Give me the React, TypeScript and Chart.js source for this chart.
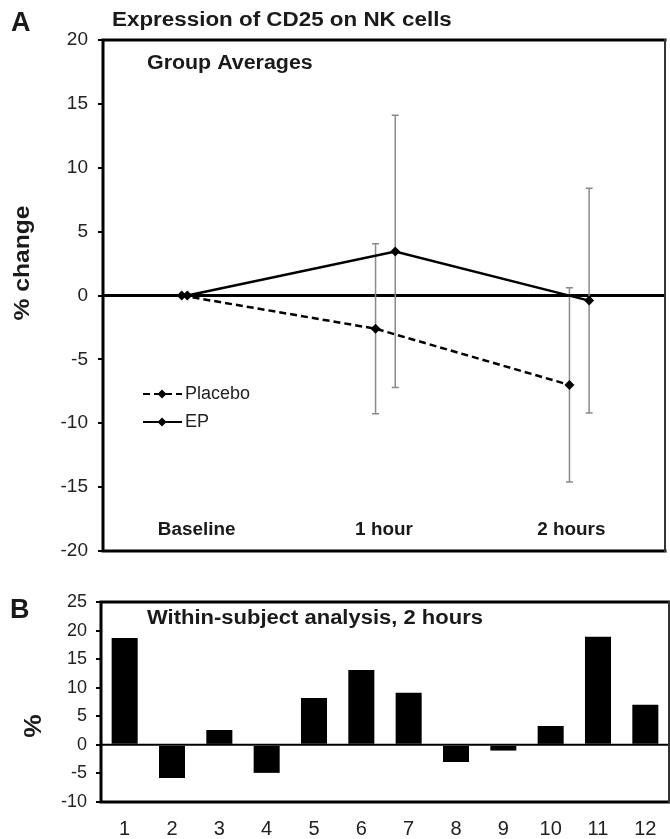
import React, { useEffect, useRef } from "react";
import { Chart, registerables } from "chart.js";

Chart.register(...registerables);

// ---------- Data: panel A (group averages) ----------
const timeLabels = ["Baseline", "1 hour", "2 hours"];
const placeboX = [-0.08, 0.955, 1.99];
const epX = [-0.05, 1.06, 2.095];
const placeboMean = [0, -2.6, -7.0];
const placeboErr = [0, 6.65, 7.6];
const epMean = [0, 3.45, -0.4];
const epErr = [0, 10.65, 8.8];
const yMinA = -20;
const yMaxA = 20;
const yStepA = 5;

// ---------- Data: panel B (within-subject, 2 hours) ----------
const subjects = ["1", "2", "3", "4", "5", "6", "7", "8", "9", "10", "11", "12"];
const withinChange = [18.7, -5.8, 2.6, -4.9, 8.2, 13.1, 9.1, -3.0, -1.0, 3.3, 18.9, 7.0];
const yMinB = -10;
const yMaxB = 25;
const yStepB = 5;

const FONT = "'Liberation Sans', Arial, Helvetica, sans-serif";
const TXT = "#1a1a1a";

function drawText(
  ctx: CanvasRenderingContext2D,
  text: string,
  x: number,
  y: number,
  font: string,
  opts: { sx?: number; align?: CanvasTextAlign; rotate?: number; color?: string } = {}
) {
  ctx.save();
  ctx.translate(x, y);
  if (opts.rotate) ctx.rotate(opts.rotate);
  ctx.scale(opts.sx ?? 1, 1);
  ctx.font = font;
  ctx.fillStyle = opts.color ?? TXT;
  ctx.textAlign = opts.align ?? "left";
  ctx.textBaseline = "middle";
  ctx.fillText(text, 0, 0);
  ctx.restore();
}

function drawBox(ctx: CanvasRenderingContext2D, a: { left: number; right: number; top: number; bottom: number }) {
  ctx.save();
  ctx.strokeStyle = "#000";
  ctx.lineCap = "square";
  ctx.lineWidth = 3;
  ctx.beginPath();
  ctx.moveTo(a.left, a.top);
  ctx.lineTo(a.right, a.top);
  ctx.moveTo(a.left, a.top);
  ctx.lineTo(a.left, a.bottom);
  ctx.lineTo(a.right, a.bottom);
  ctx.stroke();
  ctx.lineWidth = 2;
  ctx.strokeStyle = "#333";
  ctx.beginPath();
  ctx.moveTo(a.right, a.top);
  ctx.lineTo(a.right, a.bottom);
  ctx.stroke();
  ctx.restore();
}

const panelAPlugin = {
  id: "panelA",
  beforeDatasetsDraw(chart: any) {
    const { ctx, chartArea: a, scales } = chart;
    const y = scales.y;
    const x = scales.x;
    ctx.save();
    // zero line
    const y0 = y.getPixelForValue(0);
    ctx.strokeStyle = "#000";
    ctx.lineWidth = 3;
    ctx.beginPath();
    ctx.moveTo(a.left, y0);
    ctx.lineTo(a.right, y0);
    ctx.stroke();
    // error bars
    const series = [
      { xs: placeboX, m: placeboMean, e: placeboErr },
      { xs: epX, m: epMean, e: epErr },
    ];
    ctx.strokeStyle = "#8a8a8a";
    ctx.lineWidth = 1.5;
    for (const s of series) {
      for (let i = 0; i < s.m.length; i++) {
        if (!s.e[i]) continue;
        const px = x.getPixelForValue(s.xs[i]);
        const top = y.getPixelForValue(s.m[i] + s.e[i]);
        const bot = y.getPixelForValue(s.m[i] - s.e[i]);
        ctx.beginPath();
        ctx.moveTo(px, top);
        ctx.lineTo(px, bot);
        ctx.moveTo(px - 3.5, top);
        ctx.lineTo(px + 3.5, top);
        ctx.moveTo(px - 3.5, bot);
        ctx.lineTo(px + 3.5, bot);
        ctx.stroke();
      }
    }
    ctx.restore();
  },
  afterDraw(chart: any) {
    const { ctx, chartArea: a, scales } = chart;
    drawBox(ctx, a);
    // panel letter and titles
    drawText(ctx, "A", 11, 24, `bold 27px ${FONT}`);
    drawText(ctx, "Expression of CD25 on NK cells", 112, 20, `bold 20px ${FONT}`, { sx: 1.12 });
    drawText(ctx, "Group Averages", 147, 63, `bold 20px ${FONT}`, { sx: 1.07 });
    // y-axis title
    drawText(ctx, "% change", 23, 263, `bold 22px ${FONT}`, { rotate: -Math.PI / 2, align: "center", sx: 1.12 });
    // category labels inside the plot
    timeLabels.forEach((t, i) => {
      drawText(ctx, t, scales.x.getPixelForValue(i), a.bottom - 21, `bold 18px ${FONT}`, { align: "center", sx: 1.05 });
    });
    // legend
    const rows = [
      { label: "Placebo", dash: [7, 4], y: 394 },
      { label: "EP", dash: [], y: 422 },
    ];
    ctx.save();
    for (const r of rows) {
      ctx.strokeStyle = "#000";
      ctx.lineWidth = 2;
      ctx.setLineDash(r.dash);
      ctx.beginPath();
      ctx.moveTo(143, r.y);
      ctx.lineTo(182, r.y);
      ctx.stroke();
      ctx.setLineDash([]);
      ctx.fillStyle = "#000";
      ctx.beginPath();
      ctx.moveTo(162, r.y - 4.5);
      ctx.lineTo(166.5, r.y);
      ctx.lineTo(162, r.y + 4.5);
      ctx.lineTo(157.5, r.y);
      ctx.closePath();
      ctx.fill();
      drawText(ctx, r.label, 185, r.y, `18px ${FONT}`, { color: "#222" });
    }
    ctx.restore();
  },
};

const panelBPlugin = {
  id: "panelB",
  beforeDatasetsDraw(chart: any) {
    const { ctx, chartArea: a, scales } = chart;
    const y0 = scales.y.getPixelForValue(0);
    ctx.save();
    ctx.strokeStyle = "#000";
    ctx.lineWidth = 2;
    ctx.beginPath();
    ctx.moveTo(a.left, y0);
    ctx.lineTo(a.right, y0);
    ctx.stroke();
    ctx.restore();
  },
  afterDraw(chart: any) {
    const { ctx, chartArea: a } = chart;
    drawBox(ctx, a);
    drawText(ctx, "B", 10, 46, `bold 27px ${FONT}`);
    drawText(ctx, "Within-subject analysis, 2 hours", 147, 53, `bold 20px ${FONT}`, { sx: 1.1 });
    drawText(ctx, "%", 34, 161, `bold 24px ${FONT}`, { rotate: -Math.PI / 2, align: "center", sx: 1.1 });
  },
};

export default function App() {
  const refA = useRef<HTMLCanvasElement>(null);
  const refB = useRef<HTMLCanvasElement>(null);

  useEffect(() => {
    const chartA = new Chart(refA.current!, {
      type: "line",
      data: {
        datasets: [
          {
            label: "Placebo",
            data: placeboX.map((x, i) => ({ x, y: placeboMean[i] })),
            borderColor: "#000",
            backgroundColor: "#000",
            borderWidth: 2.5,
            borderDash: [7, 4],
            pointStyle: "rectRot",
            pointRadius: 5,
            pointBackgroundColor: "#000",
            pointBorderColor: "#000",
            pointBorderWidth: 0,
            tension: 0,
          },
          {
            label: "EP",
            data: epX.map((x, i) => ({ x, y: epMean[i] })),
            borderColor: "#000",
            backgroundColor: "#000",
            borderWidth: 2.5,
            pointStyle: "rectRot",
            pointRadius: 5,
            pointBackgroundColor: "#000",
            pointBorderColor: "#000",
            pointBorderWidth: 0,
            tension: 0,
          },
        ],
      },
      options: {
        responsive: false,
        animation: false,
        devicePixelRatio: 1,
        layout: { padding: { left: 0, right: 1, top: 40, bottom: 14 } },
        plugins: { legend: { display: false }, tooltip: { enabled: false }, title: { display: false } },
        scales: {
          x: { type: "linear", min: -0.5, max: 2.5, display: false },
          y: {
            min: yMinA,
            max: yMaxA,
            afterFit: (s: any) => {
              s.width = 103;
              s.paddingTop = 0;
              s.paddingBottom = 0;
            },
            ticks: { stepSize: yStepA, padding: 10, color: "#222", font: { family: FONT, size: 19 } },
            grid: { drawOnChartArea: false, drawTicks: true, tickLength: 5, color: "#000", lineWidth: 2 },
            border: { display: false },
          },
        },
      } as any,
      plugins: [panelAPlugin],
    });

    const chartB = new Chart(refB.current!, {
      type: "bar",
      data: {
        labels: subjects,
        datasets: [
          {
            label: "Within-subject change",
            data: withinChange,
            backgroundColor: "#000",
            borderWidth: 0,
            barPercentage: 0.55,
            categoryPercentage: 1,
          },
        ],
      },
      options: {
        responsive: false,
        animation: false,
        devicePixelRatio: 1,
        layout: { padding: { left: 0, right: 1, top: 37, bottom: 0 } },
        plugins: { legend: { display: false }, tooltip: { enabled: false } },
        scales: {
          x: {
            afterFit: (s: any) => {
              s.height = 37;
            },
            ticks: { padding: 7, color: "#222", font: { family: FONT, size: 20 }, maxRotation: 0 },
            grid: { display: false },
            border: { display: false },
          },
          y: {
            min: yMinB,
            max: yMaxB,
            afterFit: (s: any) => {
              s.width = 101;
            },
            ticks: { stepSize: yStepB, padding: 9, color: "#222", font: { family: FONT, size: 18 } },
            grid: { drawOnChartArea: false, drawTicks: true, tickLength: 5, color: "#000", lineWidth: 2 },
            border: { display: false },
          },
        },
      } as any,
      plugins: [panelBPlugin],
    });

    return () => {
      chartA.destroy();
      chartB.destroy();
    };
  }, []);

  return (
    <div style={{ position: "fixed", left: 0, top: 0, width: 670, height: 839, background: "#fff" }}>
      <canvas ref={refA} width={670} height={565} style={{ position: "absolute", left: 0, top: 0, width: 670, height: 565 }} />
      <canvas ref={refB} width={670} height={274} style={{ position: "absolute", left: 0, top: 565, width: 670, height: 274 }} />
    </div>
  );
}
